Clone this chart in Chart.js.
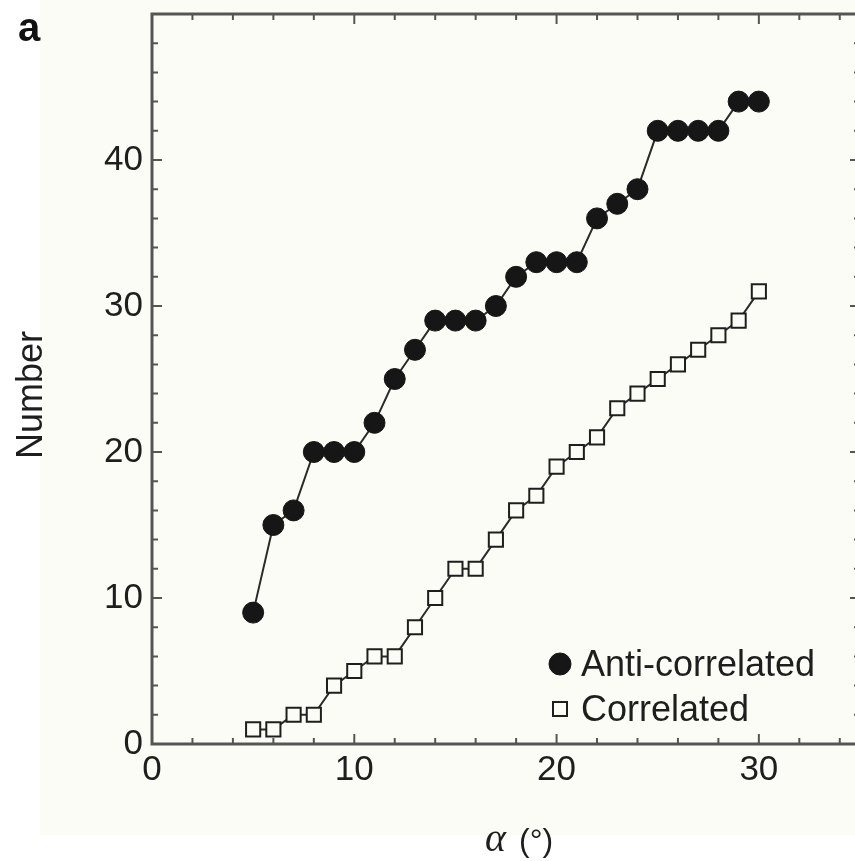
<!DOCTYPE html>
<html lang="en">
  <head>
    <meta charset="UTF-8">
    <script src="https://cdn.jsdelivr.net/npm/chart.js"></script>
    <title>Anti-correlated vs correlated</title>
    <style>
      html, body { margin: 0; padding: 0; overflow: hidden; background: #ffffff; }
      #plot { width: 860px; height: 861px; }
    </style>
  </head>
  <body>
    <div id="plot">
      <canvas id="myChart" width="860" height="861"></canvas>
    </div>
    <script>
      // alpha (degrees) on the x axis
      const angles = [5, 6, 7, 8, 9, 10, 11, 12, 13, 14, 15, 16, 17, 18, 19, 20, 21, 22, 23, 24, 25, 26, 27, 28, 29, 30];
      const antiCorrelated = [9, 15, 16, 20, 20, 20, 22, 25, 27, 29, 29, 29, 30, 32, 33, 33, 33, 36, 37, 38, 42, 42, 42, 42, 44, 44];
      const correlated = [1, 1, 2, 2, 4, 5, 6, 6, 8, 10, 12, 12, 14, 16, 17, 19, 20, 21, 23, 24, 25, 26, 27, 28, 29, 31];

      // labelled ticks (minor ticks every 2)
      const xTickLabels = [0, 10, 20, 30];
      const yTickLabels = [0, 10, 20, 30, 40];

      const sans = "'Liberation Sans', Arial, sans-serif";
      const ink = '#1e1e1e';
      const cream = '#fcfcf6';

      // background, frame with inward ticks, titles and legend
      const framePlugin = {
        id: 'frame',
        beforeDraw(chart) {
          const c = chart.ctx;
          c.save();
          c.fillStyle = '#ffffff';
          c.fillRect(0, 0, chart.width, chart.height);
          c.fillStyle = cream;
          c.fillRect(40, 0, chart.width - 40, 835);
          c.restore();
        },
        afterDraw(chart) {
          const c = chart.ctx;
          const a = chart.chartArea;
          const xs = chart.scales.x;
          const ys = chart.scales.y;
          c.save();
          c.strokeStyle = '#555555';
          c.lineWidth = 2;
          xs.ticks.forEach(function (t) {
            const px = xs.getPixelForValue(t.value);
            const len = t.value % 10 === 0 ? 10 : 6;
            c.beginPath();
            c.moveTo(px, a.bottom); c.lineTo(px, a.bottom - len);
            c.moveTo(px, a.top); c.lineTo(px, a.top + len);
            c.stroke();
          });
          ys.ticks.forEach(function (t) {
            const py = ys.getPixelForValue(t.value);
            const len = t.value % 10 === 0 ? 10 : 6;
            c.beginPath();
            c.moveTo(a.left, py); c.lineTo(a.left + len, py);
            c.moveTo(a.right, py); c.lineTo(a.right - len, py);
            c.stroke();
          });
          c.lineWidth = 3;
          c.strokeRect(a.left, a.top, a.right - a.left, a.bottom - a.top);

          // panel letter
          c.fillStyle = '#111111';
          c.font = 'bold 40px ' + sans;
          c.textAlign = 'left';
          c.textBaseline = 'alphabetic';
          c.fillText('a', 18, 41);

          // y title
          c.fillStyle = ink;
          c.font = '36px ' + sans;
          c.save();
          c.translate(42, 395);
          c.rotate(-Math.PI / 2);
          c.textAlign = 'center';
          c.fillText('Number', 0, 0);
          c.restore();

          // x title: italic alpha then (°)
          c.font = 'italic 40px "Liberation Serif", serif';
          c.textAlign = 'left';
          c.fillText('α', 485, 851);
          c.font = '32px ' + sans;
          c.fillText('(°)', 519, 851);

          // legend
          const rows = [664, 709];
          chart.data.datasets.forEach(function (ds, i) {
            const y = rows[i];
            const x = 560;
            c.lineWidth = ds.pointBorderWidth;
            c.strokeStyle = ds.pointBorderColor;
            c.fillStyle = ds.pointBackgroundColor;
            c.beginPath();
            if (ds.pointStyle === 'rect') {
              c.rect(x - 7, y - 7, 14, 14);
            } else {
              c.arc(x, y, 11, 0, Math.PI * 2);
            }
            c.fill();
            c.stroke();
            c.fillStyle = ink;
            c.font = '36px ' + sans;
            c.textBaseline = 'middle';
            c.fillText(ds.label, 581, y + 2);
            c.textBaseline = 'alphabetic';
          });
          c.restore();
        }
      };

      const ctx = document.getElementById('myChart').getContext('2d');
      const myChart = new Chart(ctx, {
        type: 'line',
        data: {
          datasets: [
            {
              label: 'Anti-correlated',
              data: angles.map((a, i) => ({ x: a, y: antiCorrelated[i] })),
              borderColor: '#2a2a2a',
              borderWidth: 2,
              pointStyle: 'circle',
              pointRadius: 10.5,
              pointBackgroundColor: '#161616',
              pointBorderColor: '#161616',
              pointBorderWidth: 1,
              tension: 0,
            },
            {
              label: 'Correlated',
              data: angles.map((a, i) => ({ x: a, y: correlated[i] })),
              borderColor: '#2a2a2a',
              borderWidth: 2,
              pointStyle: 'rect',
              pointRadius: 10,
              pointBackgroundColor: cream,
              pointBorderColor: '#1e1e1e',
              pointBorderWidth: 2,
              tension: 0,
            },
          ],
        },
        options: {
          responsive: false,
          animation: false,
          layout: { autoPadding: false, padding: { left: 0, right: 0, top: 14, bottom: 0 } },
          plugins: {
            legend: { display: false },
            tooltip: { enabled: false },
          },
          scales: {
            x: {
              type: 'linear',
              min: 0,
              max: 35,
              grid: { display: false, drawTicks: false },
              border: { display: false },
              ticks: {
                stepSize: 2,
                includeBounds: false,
                autoSkip: false,
                maxRotation: 0,
                padding: 5,
                color: ink,
                font: { family: sans, size: 35 },
                callback: (v) => (xTickLabels.includes(v) ? String(v) : ''),
              },
              afterFit: (scale) => {
                scale.height = 117;
                scale.paddingLeft = 0;
                scale.paddingRight = 0;
              },
            },
            y: {
              min: 0,
              max: 50,
              grid: { display: false, drawTicks: false },
              border: { display: false },
              ticks: {
                stepSize: 2,
                autoSkip: false,
                padding: 9,
                color: ink,
                font: { family: sans, size: 35 },
                callback: (v) => (yTickLabels.includes(v) ? String(v) : ''),
              },
              afterFit: (scale) => {
                scale.width = 152;
                scale.paddingTop = 0;
                scale.paddingBottom = 0;
              },
            },
          },
        },
        plugins: [framePlugin],
      });
    </script>
  </body>
</html>
